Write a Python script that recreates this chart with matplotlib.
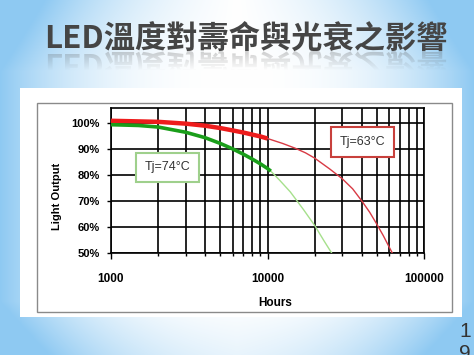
import matplotlib.pyplot as plt
import numpy as np
from matplotlib.patches import Rectangle
from matplotlib.ticker import FixedLocator, NullFormatter

plt.rcParams['font.family'] = ['Liberation Sans', 'DejaVu Sans']

# measured part (thick) and extrapolated part (thin) of each curve
hours_63 = [1000, 2000, 3000, 4000, 5000, 6000, 7000, 8000, 9000, 10000]
light_63 = [100.7, 100.3, 99.6, 98.8, 97.9, 97.0, 96.2, 95.4, 94.7, 93.9]
hours_63_ext = [10000, 12500, 15000, 17500, 20000, 25000, 30000, 35000, 40000,
                45000, 50000, 55000, 60000, 62700]
light_63_ext = [93.9, 92.0, 90.2, 88.4, 86.4, 82.2, 78.5, 74.6, 70.0,
                65.6, 61.0, 56.6, 52.2, 50.0]

hours_74 = [1000, 1500, 2000, 3000, 4000, 5000, 6000, 7000, 8000, 9000, 10000, 10500]
light_74 = [99.2, 98.9, 98.3, 96.3, 94.2, 92.0, 89.9, 87.9, 86.0, 84.2, 82.4, 81.4]
hours_74_ext = [10500, 12000, 14000, 17000, 20000, 23000, 25700]
light_74_ext = [81.4, 77.8, 73.4, 66.6, 60.6, 54.6, 50.0]

y_ticks = [50, 60, 70, 80, 90, 100]
y_labels = ['50%', '60%', '70%', '80%', '90%', '100%']
x_ticks = [1000, 10000, 100000]
x_labels = ['1000', '10000', '100000']

title = 'LED溫度對壽命與光衰之影響'
title_kw = dict(ha='center', va='center', fontsize=22.5, fontweight='bold',
                family=['Noto Sans CJK TC', 'DejaVu Sans'])

W, H = 474, 355
fig = plt.figure(figsize=(W / 100, H / 100), dpi=100)

# slide background: white centre fading to light blue at the edges
bg = fig.add_axes([0, 0, 1, 1])
X, Y = np.meshgrid(np.linspace(0, 1, W), np.linspace(0, 1, H))
d = np.abs(X - 0.5) * 2
b = d ** 2.5 + 0.5 * np.clip((Y - 0.85) / 0.15, 0, 1) * (0.4 + 0.6 * d) \
    + 0.5 * np.clip((0.2 - Y) / 0.2, 0, 1) * d
b = np.clip(b, 0, 1)[..., None]
blue = np.array([0.56, 0.79, 0.95])
bg.imshow((1 - b) * np.ones(3) + b * blue, aspect='auto', extent=[0, W, H, 0])

# title reflection: render the title alone, flip it under its baseline
tf = plt.figure(figsize=(W / 100, H / 100), dpi=100)
tf.patch.set_alpha(0)
tf.text(246 / W, 1 - 39 / H, title, color='black', **title_kw)
tf.canvas.draw()
mask = np.asarray(tf.canvas.buffer_rgba())[..., 3] / 255.0
plt.close(tf)
rows = np.where(mask.max(axis=1) > 0.1)[0]
base = rows.max()
refl = np.zeros((H, W, 4))
refl[..., :3] = 0.35
for k in range(1, 20):
    if base + k < H:
        refl[base + k, :, 3] = mask[base - k + 1] * 0.3 * (1 - k / 20)
bg.imshow(refl, aspect='auto', extent=[0, W, H, 0])

bg.set_xlim(0, W)
bg.set_ylim(H, 0)
bg.axis('off')

# white panel and grey frame of the pasted picture
bg.add_patch(Rectangle((20, 88), 442, 229, facecolor='white', edgecolor='none'))
bg.add_patch(Rectangle((37, 103), 415, 209, facecolor='none', edgecolor='#8a8a8a', lw=1))

bg.text(246, 39, title, color='#454545', **title_kw)
bg.text(465, 322, '1\n9', ha='center', va='top', fontsize=15, color='#333333',
        linespacing=1.2)

fig.text(57 / W, 1 - 196 / H, 'Light Output', rotation=90, ha='center', va='center',
         fontsize=8, fontweight='bold')
fig.text(275 / W, 1 - 303 / H, 'Hours', ha='center', va='center',
         fontsize=8.5, fontweight='bold')

ax = fig.add_axes([111 / W, 1 - 253 / H, 313 / W, 145 / H])
ax.set_xscale('log')
ax.set_xlim(1000, 100000)
ax.set_ylim(50, 105.6)

ax.plot(hours_63_ext, light_63_ext, color='#d83a44', lw=1.0, zorder=3)
ax.plot(hours_74_ext, light_74_ext, color='#a6e08c', lw=1.0, zorder=3)
ax.plot(hours_63, light_63, color='#ee1c1c', lw=3.2, zorder=4, solid_capstyle='butt')
ax.plot(hours_74, light_74, color='#1a9e1a', lw=2.6, zorder=4, solid_capstyle='butt')

ax.xaxis.set_major_locator(FixedLocator(x_ticks))
ax.set_xticklabels(x_labels)
minor = [m * 10 ** e for e in (3, 4) for m in range(2, 10)]
ax.xaxis.set_minor_locator(FixedLocator(minor))
ax.xaxis.set_minor_formatter(NullFormatter())
ax.set_yticks(y_ticks)
ax.set_yticklabels(y_labels)

ax.grid(True, which='both', axis='x', color='black', lw=1.2)
ax.grid(True, which='major', axis='y', color='black', lw=1.2)
ax.set_axisbelow(True)
for s in ax.spines.values():
    s.set_linewidth(1.2)

ax.tick_params(axis='x', which='major', length=4.5, width=1, pad=10, labelsize=8.5)
ax.tick_params(axis='x', which='minor', length=2.5, width=1)
ax.tick_params(axis='y', length=3, width=1, pad=5, labelsize=8)
for lab in ax.get_xticklabels() + ax.get_yticklabels():
    lab.set_fontweight('bold')

ax.text(2296, 82.8, 'Tj=74°C', ha='center', va='center', fontsize=9, color='#333333',
        zorder=6, bbox=dict(boxstyle='square,pad=0.7', fc='white', ec='#9fd08c', lw=1.5))
ax.text(40450, 92.6, 'Tj=63°C', ha='center', va='center', fontsize=9, color='#333333',
        zorder=6, bbox=dict(boxstyle='square,pad=0.7', fc='white', ec='#c8403c', lw=1.5))

fig.savefig('out.png', dpi=100)
